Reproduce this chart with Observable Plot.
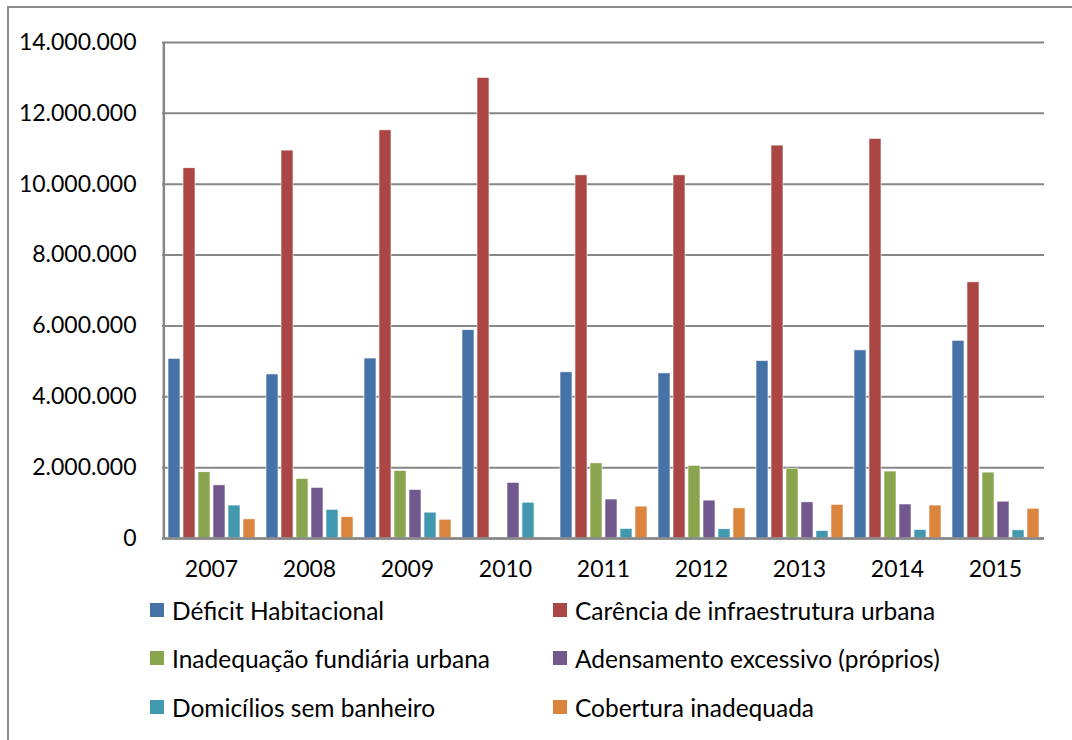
<!DOCTYPE html>
<html>
<head>
<meta charset="utf-8">
<script src="https://cdn.jsdelivr.net/npm/d3@7"></script>
<script src="https://cdn.jsdelivr.net/npm/@observablehq/plot@0.6"></script>
<style>
  html, body { margin: 0; padding: 0; background: #fff; }
  #wrap { position: relative; width: 1072px; height: 740px; overflow: hidden; font-family: Lato, "Liberation Sans", sans-serif; }
  #border { position: absolute; left: 7px; top: 6px; width: 1080px; height: 800px; border-top: 2px solid #8a8a8a; border-left: 2px solid #8a8a8a; box-sizing: border-box; }
  #chart { position: absolute; left: 0; top: 0; }
  .leg { position: absolute; display: flex; align-items: center; font-size: 24.5px; color: #000; white-space: nowrap; }
  .sw { width: 14px; height: 14px; margin-right: 8px; }
</style>
</head>
<body>
<div id="wrap">
  <div id="border"></div>
  <div id="chart"></div>
</div>
<script>
const years = ["2007","2008","2009","2010","2011","2012","2013","2014","2015"];
const seriesNames = [
  "Déficit Habitacional",
  "Carência de infraestrutura urbana",
  "Inadequação fundiária urbana",
  "Adensamento excessivo (próprios)",
  "Domicílios sem banheiro",
  "Cobertura inadequada"
];
const deficitHabitacional   = [5070000, 4630000, 5080000, 5880000, 4690000, 4660000, 5010000, 5310000, 5580000];
const carenciaInfra         = [10450000, 10950000, 11520000, 13000000, 10250000, 10250000, 11090000, 11280000, 7230000];
const inadequacaoFundiaria  = [1870000, 1680000, 1910000, null, 2120000, 2050000, 1970000, 1890000, 1860000];
const adensamentoExcessivo  = [1500000, 1430000, 1370000, 1570000, 1100000, 1070000, 1020000, 960000, 1040000];
const domiciliosSemBanheiro = [930000, 810000, 730000, 1010000, 270000, 260000, 210000, 240000, 230000];
const coberturaInadequada   = [540000, 600000, 530000, null, 900000, 850000, 950000, 930000, 840000];
const yTicks = [0, 2000000, 4000000, 6000000, 8000000, 10000000, 12000000, 14000000];
const colors = ["#4572A7", "#AA4643", "#89A54E", "#71588F", "#4198AF", "#DB843D"];

const seriesValues = [deficitHabitacional, carenciaInfra, inadequacaoFundiaria, adensamentoExcessivo, domiciliosSemBanheiro, coberturaInadequada];
const data = [];
years.forEach((yr, i) => seriesValues.forEach((vals, s) => data.push({year: yr, series: seriesNames[s], value: vals[i]})));

const W = 1072, H = 600, mL = 158, mR = 25, mT = 42, mB = 62;
const pInner = 0.2, pOuter = 0.287;
const facetW = (W - mL - mR) / years.length;
const step = facetW / (seriesNames.length - pInner + 2 * pOuter);
const firstBandCenter = pOuter * step + step * (1 - pInner) / 2;
const fmt = d => d3.format(",")(d).replace(/,/g, ".");

const chart = Plot.plot({
  width: W, height: H,
  marginLeft: mL, marginRight: mR, marginTop: mT, marginBottom: mB,
  style: {fontFamily: "Lato, 'Liberation Sans', sans-serif", fontSize: "23px", color: "#000", background: "transparent", overflow: "visible"},
  fx: {domain: years, padding: 0, label: null, axis: "bottom", tickSize: 0, tickPadding: 22},
  x: {domain: seriesNames, axis: null, paddingInner: pInner, paddingOuter: pOuter},
  y: {domain: [0, 14000000], label: null, axis: null},
  color: {domain: seriesNames, range: colors},
  marks: [
    Plot.gridY(yTicks, {stroke: "#868686", strokeOpacity: 1, strokeWidth: 2}),
    Plot.axisY(yTicks, {anchor: "left", tickSize: 0, tickPadding: 26, tickFormat: fmt, label: null, fontSize: 23}),
    Plot.barY(data, {fx: "year", x: "series", y: "value", fill: "series", stroke: "#ffffff", strokeWidth: 0.6}),
    Plot.ruleY([0], {stroke: "#868686", strokeWidth: 2.5}),
    Plot.ruleX([years[0]], {fx: d => d, x: () => seriesNames[0], y1: 0, y2: 14000000, dx: -firstBandCenter, stroke: "#868686", strokeWidth: 2.5})
  ]
});
document.getElementById("chart").appendChild(chart);

const wrap = document.getElementById("wrap");
const legPos = [[150, 610], [553, 610], [150, 658], [553, 658], [150, 707], [553, 707]];
seriesNames.forEach((name, i) => {
  const el = document.createElement("div");
  el.className = "leg";
  el.style.left = legPos[i][0] + "px";
  el.style.top = (legPos[i][1] - 15) + "px";
  el.style.height = "30px";
  el.innerHTML = `<span class="sw" style="background:${colors[i]}"></span><span>${name}</span>`;
  wrap.appendChild(el);
});
</script>
</body>
</html>
